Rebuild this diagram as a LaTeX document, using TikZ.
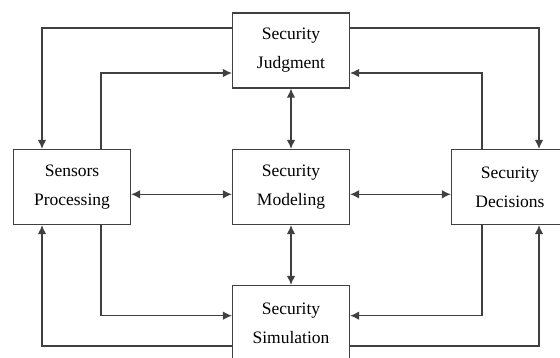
\documentclass[tikz,border=0pt]{standalone}
\usepackage{fontspec}
\setmainfont{Liberation Serif}
\usetikzlibrary{arrows.meta}

\begin{document}
\begin{tikzpicture}[x=1pt,y=-1pt,
  box/.style = {draw=black!75, line width=1.2pt, minimum width=117pt,
    minimum height=75pt, inner sep=0pt, align=center,
    font=\fontsize{17.5}{29}\selectfont},
  link/.style = {draw=black!75, line width=1.2pt, -{Latex[length=9pt,width=8.5pt]}},
  dlink/.style = {link, {Latex[length=9pt,width=8.5pt]}-{Latex[length=9pt,width=8.5pt]}}]
  \useasboundingbox (0,0) rectangle (560,358);
  % 五个方框
  \node[box] (judg)  at (291,50.5) {Security\\Judgment};
  \node[box] (sens)  at (72,187)   {Sensors\\Processing};
  \node[box] (model) at (291,187)  {Security\\Modeling};
  \node[box] (dec)   at (510,187)  {Security\\Decisions};
  \node[box] (sim)   at (291,323)  {Security\\Simulation};
  % 中间的双向箭头
  \draw[dlink] (judg) -- (model);
  \draw[dlink] (model) -- (sim);
  \draw[dlink] ([yshift=-7.3pt]sens.east) -- ([yshift=-7.3pt]model.west);
  \draw[dlink] ([yshift=-7.3pt]model.east) -- ([yshift=-7.3pt]dec.west);
  % 上方的回路
  \draw[link] ([yshift=22.5pt]judg.west) -| ([xshift=-30pt]sens.north);
  \draw[link] ([xshift=29pt]sens.north) |- ([yshift=-22.5pt]judg.west);
  \draw[link] ([yshift=22.5pt]judg.east) -| ([xshift=29pt]dec.north);
  \draw[link] ([xshift=-28pt]dec.north) |- ([yshift=-22.5pt]judg.east);
  % 下方的回路
  \draw[link] ([xshift=29pt]sens.south) |- ([yshift=7.3pt]sim.west);
  \draw[link] ([yshift=-23pt]sim.west) -| ([xshift=-30pt]sens.south);
  \draw[link] ([xshift=-28pt]dec.south) |- ([yshift=7.3pt]sim.east);
  \draw[link] ([yshift=-23pt]sim.east) -| ([xshift=29pt]dec.south);
\end{tikzpicture}
\end{document}
